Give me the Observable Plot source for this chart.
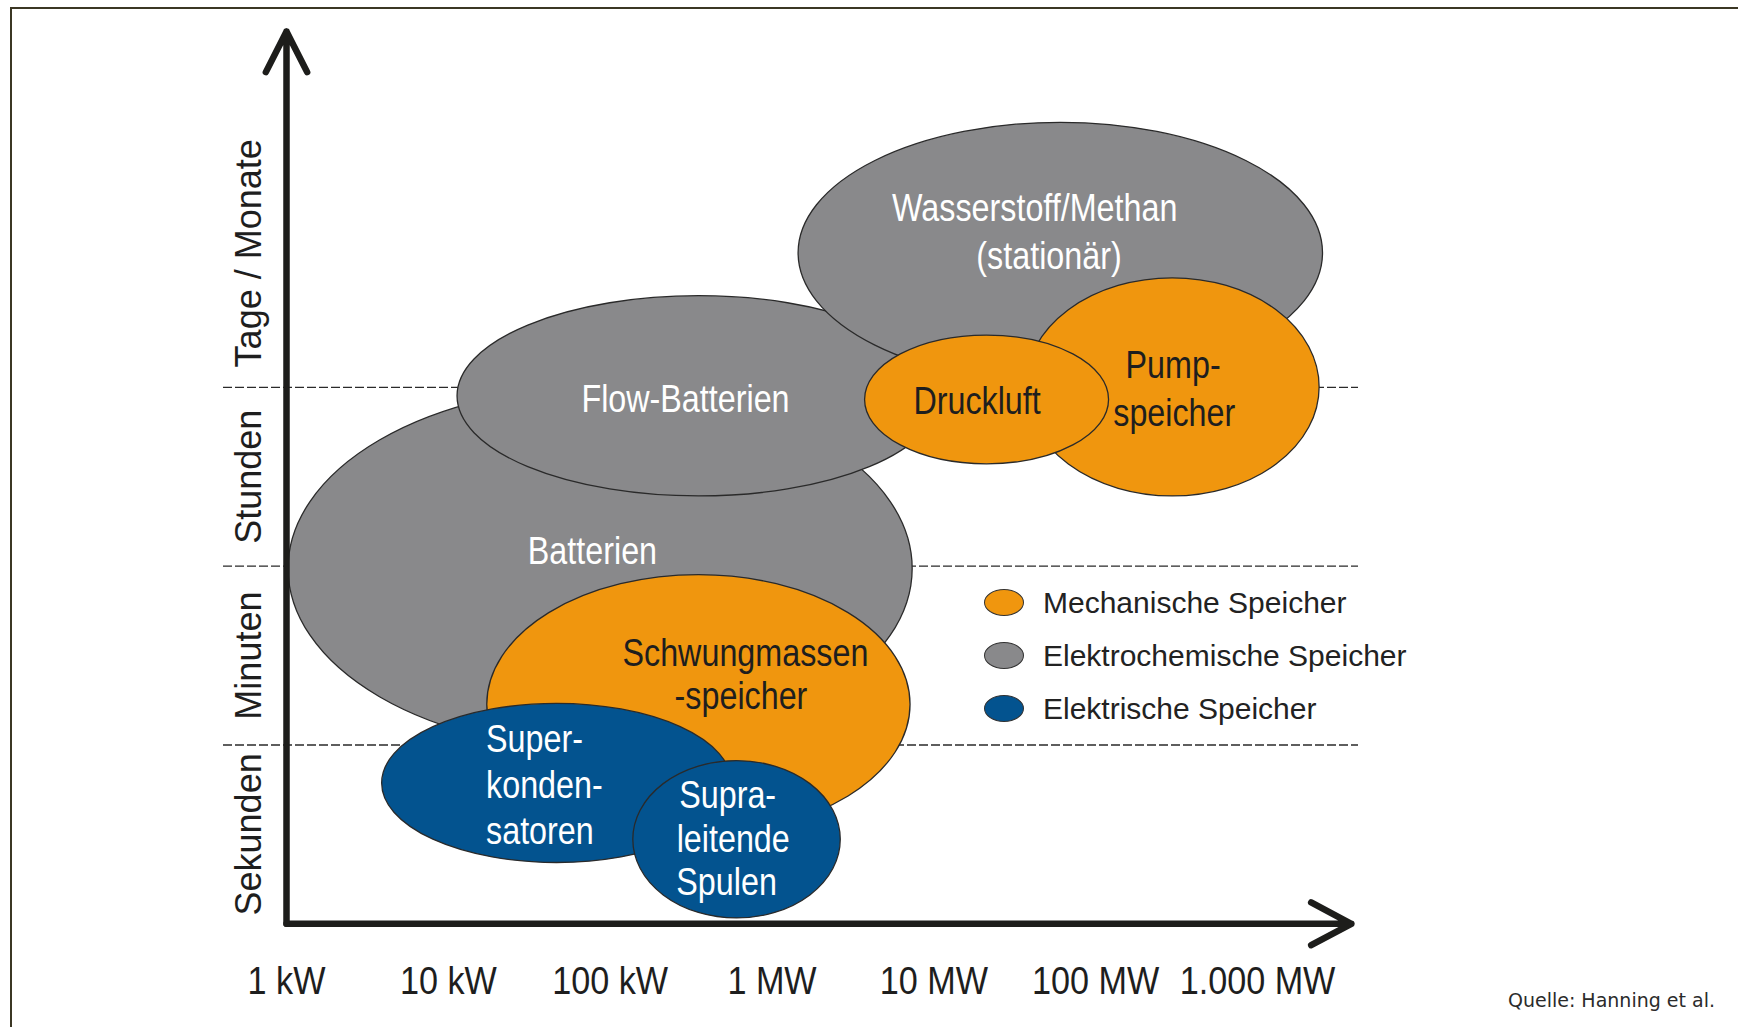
<!DOCTYPE html>
<html>
<head>
<meta charset="utf-8">
<script src="https://cdn.jsdelivr.net/npm/d3@7"></script>
<script src="https://cdn.jsdelivr.net/npm/@observablehq/plot@0.6"></script>
<style>
  html, body { margin: 0; padding: 0; background: #fff; width: 1738px; height: 1027px; overflow: hidden; }
  #frame { position: absolute; left: 10px; top: 7px; width: 1800px; height: 1100px;
           border-left: 2.6px solid #3b3724; border-top: 2.6px solid #3b3724; box-sizing: border-box; }
  #chart { position: absolute; left: 0; top: 0; }
  .legend { position: absolute; left: 984px; top: 576px; font-family: "Liberation Sans", Arial, sans-serif;
            font-size: 30px; color: #222; }
  .legend .row { display: flex; align-items: center; height: 53px; }
  .legend .sw { width: 40px; height: 27px; border-radius: 50%; border: 1.6px solid #333; box-sizing: border-box; margin-right: 19px; }
  .caption { position: absolute; left: 1508px; top: 989px; font-family: "DejaVu Sans", sans-serif; font-size: 19px; color: #2b2b2b; }
</style>
</head>
<body>
<div id="frame"></div>
<div id="chart"></div>
<div class="legend" id="legend"></div>
<div class="caption">Quelle: Hanning et al.</div>
<script>
// ---- data ----
const storageNames = ["Batterien", "Flow-Batterien", "Wasserstoff/Methan (stationär)", "Pumpspeicher",
  "Druckluft", "Schwungmassenspeicher", "Superkondensatoren", "Supraleitende Spulen"];
const storageCategory = ["Elektrochemische Speicher", "Elektrochemische Speicher", "Elektrochemische Speicher",
  "Mechanische Speicher", "Mechanische Speicher", "Mechanische Speicher", "Elektrische Speicher", "Elektrische Speicher"];
const powerMinKW = [1.03, 11.4, 1460, 37000, 3760, 17.4, 3.9, 139];
const powerMaxKW = [7400, 11000, 2540000, 2420000, 121000, 7180, 566, 2660];
const durationMin = [0.97, 2.39, 3.02, 2.39, 2.57, 0.50, 0.34, 0.03];
const durationMax = [3.00, 3.51, 4.48, 3.61, 3.29, 1.95, 1.23, 0.91];

const labelLines = ["Wasserstoff/Methan", "(stationär)", "Flow-Batterien", "Druckluft", "Pump-", "speicher",
  "Batterien", "Schwungmassen", "-speicher", "Super-", "konden-", "satoren", "Supra-", "leitende", "Spulen"];
const labelOwner = [2, 2, 1, 4, 3, 3, 0, 5, 5, 6, 6, 6, 7, 7, 7];
const labelPowerKW = [42000, 51500, 292, 18500, 301000, 306000, 77.7, 685, 643, 17.1, 17.1, 17.1, 532, 576, 524];
const labelDuration = [4.00, 3.73, 2.93, 2.92, 3.12, 2.85, 2.08, 1.51, 1.27, 1.03, 0.77, 0.515, 0.713, 0.471, 0.229];

const powerTicksKW = [1, 10, 100, 1000, 10000, 100000, 1000000];
const powerTickLabels = ["1 kW", "10 kW", "100 kW", "1 MW", "10 MW", "100 MW", "1.000 MW"];
const durationBounds = [1, 2, 3];
const durationLabels = ["Sekunden", "Minuten", "Stunden", "Tage / Monate"];
const durationLabelPos = [0.5, 1.5, 2.5, 3.75];
const axisPowerEndKW = 3.8e6;
const axisDurationEnd = 4.99;

const categories = ["Mechanische Speicher", "Elektrochemische Speicher", "Elektrische Speicher"];
const categoryColors = ["#f0960e", "#89898b", "#03538f"];
const categoryText = ["#1e1e1e", "#ffffff", "#ffffff"];

// ---- build tables ----
const storages = storageNames.map((name, i) => ({
  name, category: storageCategory[i],
  pMin: powerMinKW[i], pMax: powerMaxKW[i], dMin: durationMin[i], dMax: durationMax[i]
}));
const labels = labelLines.map((text, i) => ({
  text, owner: storageNames[labelOwner[i]], category: storageCategory[labelOwner[i]],
  p: labelPowerKW[i], d: labelDuration[i]
}));
const colorOf = c => categoryColors[categories.indexOf(c)];
const textColorOf = c => categoryText[categories.indexOf(c)];

// custom ellipse mark, positioned through Plot's scales
function ellipseMark(data) {
  return (index, scales) => {
    const g = d3.create("svg:g");
    for (const d of data) {
      const x1 = scales.x(d.pMin), x2 = scales.x(d.pMax);
      const y1 = scales.y(d.dMin), y2 = scales.y(d.dMax);
      g.append("ellipse")
        .attr("cx", (x1 + x2) / 2).attr("cy", (y1 + y2) / 2)
        .attr("rx", Math.abs(x2 - x1) / 2).attr("ry", Math.abs(y2 - y1) / 2)
        .attr("fill", colorOf(d.category))
        .attr("stroke", "#2a2a2a").attr("stroke-width", 1.3);
    }
    return g.node();
  };
}

const sans = "'Liberation Sans', Arial, sans-serif";
const centered = labels.filter(l => l.owner !== "Superkondensatoren");
const leftAligned = labels.filter(l => l.owner === "Superkondensatoren");

const chart = Plot.plot({
  width: 1738,
  height: 1027,
  marginLeft: 223,
  marginRight: 380,
  marginTop: 30,
  marginBottom: 104,
  x: { type: "log", domain: [1, 1e6], range: [286, 1257], axis: null },
  y: { domain: [0, 4], range: [923.3, 208.1], axis: null },
  style: { background: "transparent", overflow: "visible" },
  marks: [
    Plot.ruleY(durationBounds, { y: d => d, stroke: "#2a2a2a", strokeWidth: 1.3, strokeDasharray: "9,3" }),
    ellipseMark(storages),
    Plot.text(centered, {
      x: "p", y: "d", text: "text", fill: d => textColorOf(d.category),
      fontSize: 38, fontFamily: sans, textAnchor: "middle", lineAnchor: "middle"
    }),
    Plot.text(leftAligned, {
      x: "p", y: "d", text: "text", fill: d => textColorOf(d.category),
      fontSize: 38, fontFamily: sans, textAnchor: "start", lineAnchor: "middle"
    }),
    Plot.arrow([{ a: 1, b: 0, c: axisPowerEndKW, e: 0 }], {
      x1: "a", y1: "b", x2: "c", y2: "e", stroke: "#1d1d1b", strokeWidth: 6.5,
      headAngle: 56, headLength: 10.5, strokeLinecap: "round", strokeLinejoin: "round"
    }),
    Plot.arrow([{ a: 1, b: 0, c: 1, e: axisDurationEnd }], {
      x1: "a", y1: "b", x2: "c", y2: "e", stroke: "#1d1d1b", strokeWidth: 6.5,
      headAngle: 54, headLength: 10.5, strokeLinecap: "round", strokeLinejoin: "round"
    }),
    Plot.text(powerTicksKW, {
      x: d => d, y: () => 0, dy: 58, text: (d, i) => powerTickLabels[i],
      fontSize: 38, fontFamily: sans, fill: "#1e1e1e", lineAnchor: "middle"
    }),
    Plot.text(durationLabels, {
      x: () => 1, y: (d, i) => durationLabelPos[i], dx: -37, rotate: -90, text: d => d,
      fontSize: 36, fontFamily: sans, fill: "#1e1e1e",
      lineAnchor: "middle", textAnchor: "middle"
    })
  ]
});
document.getElementById("chart").appendChild(chart);

// condensed look: squeeze the text horizontally around its anchor (keeps Plot's own positioning)
function squeeze(texts, k) {
  const set = new Set(texts);
  chart.querySelectorAll("text").forEach(t => {
    if (!set.has(t.textContent)) return;
    const tr = t.getAttribute("transform");
    if (!tr) return;
    t.setAttribute("transform", `${tr} scale(${k},1)`);
  });
}
squeeze(labelLines, 0.85);
squeeze(powerTickLabels, 0.9);

// legend
const legend = document.getElementById("legend");
categories.forEach((c, i) => {
  const row = document.createElement("div");
  row.className = "row";
  const sw = document.createElement("div");
  sw.className = "sw";
  sw.style.background = categoryColors[i];
  const t = document.createElement("span");
  t.textContent = c;
  row.appendChild(sw);
  row.appendChild(t);
  legend.appendChild(row);
});
</script>
</body>
</html>
